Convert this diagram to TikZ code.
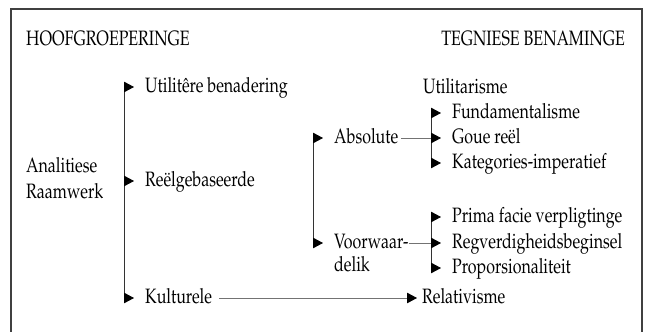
\documentclass[tikz,border=0pt]{standalone}
\usepackage[T1]{fontenc}
\usepackage{mathpazo}
\usepackage{graphicx}
\usetikzlibrary{arrows.meta}

% tall narrow lettering
\newcommand{\tall}[1]{\scalebox{1}[1.3]{#1}}

\tikzset{
  lbl/.style={font=\fontsize{16}{25}\selectfont, inner sep=0pt, anchor=base west},
  trunk/.style={draw=black!80, line width=0.8pt},
  feed/.style={draw=black!55, line width=0.6pt},
  tip/.style={-{Triangle[length=10pt,width=10.5pt,color=black]}, line width=0.8pt, shorten >=11pt}
}

\begin{document}
\begin{tikzpicture}[x=1pt,y=-1pt]
    \useasboundingbox (0,0) rectangle (648,332);

    % Frame, open at the bottom
    \draw[black!75, line width=1.2pt] (11,332) -- (11,9) -- (642,9) -- (642,332);

    % Headings
    \node[lbl] (hoof) at (26,45) {\tall{HOOFGROEPERINGE}};
    \node[lbl, anchor=base east] (tegn) at (625,45) {\tall{TEGNIESE BENAMINGE}};

    % Trunk positions
    \coordinate (t1) at (124,0);
    \coordinate (t2) at (313,0);
    \coordinate (t3) at (431,0);

    % Main groups
    \node[lbl, anchor=north west, align=left, font=\fontsize{16}{26.5}\selectfont]
        (anal) at (26,157) {\tall{Analitiese}\\\tall{Raamwerk}};
    \node[lbl] (util) at (145,92) {\tall{Utilit\^ere benadering}};
    \node[lbl] (reel) at (145,186) {\tall{Re\"elgebaseerde}};
    \node[lbl] (kult) at (145,303) {\tall{Kulturele}};

    % Sub groups
    \node[lbl] (abs) at (334,143) {\tall{Absolute}};
    \node[lbl, anchor=north west, align=left, font=\fontsize{16}{23}\selectfont]
        (voor) at (334,234) {\tall{Voorwaar-}\\\tall{delik}};

    % Technical names
    \node[lbl] (utar) at (423,93) {\tall{Utilitarisme}};
    \node[lbl] (fund) at (452,118) {\tall{Fundamentalisme}};
    \node[lbl] (goue) at (452,143) {\tall{Goue re\"el}};
    \node[lbl] (kat) at (452,168) {\tall{Kategories-imperatief}};
    \node[lbl] (prima) at (452,222) {\tall{Prima facie verpligtinge}};
    \node[lbl] (regv) at (452,248) {\tall{Regverdigheidsbeginsel}};
    \node[lbl] (prop) at (452,273) {\tall{Proporsionaliteit}};
    \node[lbl] (rel) at (422,303) {\tall{Relativisme}};

    % Trunks
    \draw[trunk] ([yshift=5pt]t1 |- util.base west) -- ([yshift=5pt]t1 |- kult.base west);
    \draw[trunk] ([yshift=5pt]t2 |- abs.base west) -- ([yshift=5pt]t2 |- regv.base west);
    \draw[trunk] ([yshift=5pt]t3 |- fund.base west) -- ([yshift=5pt]t3 |- kat.base west);
    \draw[trunk] ([yshift=5pt]t3 |- prima.base west) -- ([yshift=5pt]t3 |- prop.base west);

    % Branch arrows
    \foreach \n in {util,reel,kult}
        \draw[tip] ([yshift=5pt]t1 |- \n.base west) -- ([yshift=5pt]\n.base west);
    \draw[tip] ([yshift=5pt]t2 |- abs.base west) -- ([yshift=5pt]abs.base west);
    \draw[tip] ([yshift=5pt]t2 |- regv.base west) -- ([yshift=5pt]voor.west |- regv.base west);
    \foreach \n in {fund,goue,kat,prima,regv,prop}
        \draw[tip] ([yshift=5pt]t3 |- \n.base west) -- ([yshift=5pt]\n.base west);

    % Feed lines
    \draw[feed] ([yshift=5pt,xshift=3pt]abs.base east) -- ([yshift=5pt]t3 |- goue.base west);
    \draw[feed] ([yshift=5pt]voor.east |- regv.base west) -- ([yshift=5pt]t3 |- regv.base west);
    \draw[feed, tip, shorten >=5pt] ([yshift=5pt,xshift=7pt]kult.base east) -- ([yshift=5pt]rel.base west);
\end{tikzpicture}
\end{document}
